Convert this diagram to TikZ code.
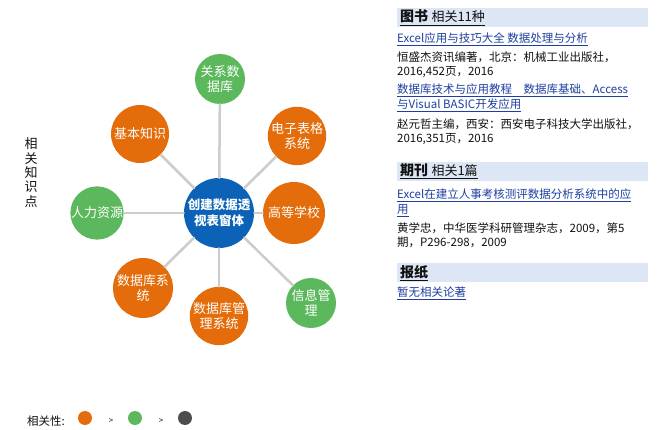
\documentclass[tikz,border=0pt]{standalone}
\usepackage{fontspec}
\setmainfont{Noto Sans CJK SC}
\usetikzlibrary{positioning}
\definecolor{hubblue}{HTML}{0B62B6}
\definecolor{hotorange}{HTML}{E46C0A}
\definecolor{warmgreen}{HTML}{5CB85C}
\definecolor{coldgray}{HTML}{4D4D4D}
\definecolor{spokegray}{HTML}{CCCCCC}
\definecolor{bandblue}{HTML}{DDE6F5}
\definecolor{linkblue}{HTML}{1E3FA0}
\definecolor{ink}{HTML}{111111}
\tikzset{
  star diagram/.style={
    x=1pt,
    y=-1pt,
    line cap=round,
    line join=round
  },
  topicnode/.style={
    circle,
    inner sep=0pt,
    text=white,
    align=center,
    font=\fontsize{13}{15}\selectfont
  },
  hotnode/.style={
    topicnode,
    fill=hotorange
  },
  warmnode/.style={
    topicnode,
    fill=warmgreen
  },
  hubnode/.style={
    topicnode,
    fill=hubblue,
    minimum size=70pt,
    font=\fontsize{12.5}{16}\selectfont\bfseries
  },
  spoke/.style={
    draw=spokegray,
    line width=2.5pt
  },
  headband/.style={
    anchor=north west,
    fill=bandblue,
    minimum width=251pt,
    minimum height=19pt,
    text width=245pt,
    inner xsep=3pt,
    inner ysep=0pt,
    align=left,
    text=ink
  },
  linktext/.style={
    anchor=west,
    text=linkblue,
    align=left,
    inner sep=0pt,
    font=\fontsize{11.5}{15}\selectfont
  },
  bodytext/.style={
    anchor=west,
    text=ink,
    align=left,
    inner sep=0pt,
    font=\fontsize{11.5}{14}\selectfont
  },
  legenddot/.style={
    circle,
    inner sep=0pt,
    minimum size=14pt
  }
}
\begin{document}
\begin{tikzpicture}[star diagram]
\useasboundingbox[fill=white] (0,0) rectangle (657,430);

% knowledge star
\node[hubnode] (hub) at (219,213) {创建数据透\\视表窗体};
\node[warmnode, minimum size=50pt] (reldb) at (220,79) {关系数\\据库};
\node[hotnode, minimum size=58pt] (sheet) at (297,136) {电子表格\\系统};
\node[hotnode, minimum size=62pt] (college) at (294,213) {高等学校};
\node[warmnode, minimum size=50pt] (infomgmt) at (311,303) {信息管\\理};
\node[hotnode, minimum size=58pt] (dbms) at (219,316) {数据库管\\理系统};
\node[hotnode, minimum size=60pt] (dbsys) at (143,288) {数据库系\\统};
\node[warmnode, minimum size=52pt] (hr) at (97,213) {人力资源};
\node[hotnode, minimum size=58pt] (basics) at (140,134) {基本知识};

\draw[spoke] (hub) -- (reldb);
\draw[spoke] (hub) -- (sheet);
\draw[spoke] (hub) -- (college);
\draw[spoke] (hub) -- (infomgmt);
\draw[spoke] (hub) -- (dbms);
\draw[spoke] (hub) -- (dbsys);
\draw[spoke] (hub) -- (hr);
\draw[spoke] (hub) -- (basics);

\node[align=center, inner sep=0pt, text=ink, font=\fontsize{13}{14.3}\selectfont] (sidelabel) at (31,172.5) {相\\关\\知\\识\\点};

% legend
\node[anchor=west, inner sep=0pt, text=ink, font=\fontsize{11.5}{12}\selectfont] (legendlabel) at (27,421) {相关性:};
\node[legenddot, fill=hotorange] (hotdot) at (85,418) {};
\node[inner sep=0pt, text=ink, font=\fontsize{8}{8}\selectfont] (gtone) at (111,421) {>};
\node[legenddot, fill=warmgreen] (warmdot) at (135,418) {};
\node[inner sep=0pt, text=ink, font=\fontsize{8}{8}\selectfont] (gttwo) at (161,421) {>};
\node[legenddot, fill=coldgray] (colddot) at (185,418) {};

% literature panel
\node[headband] (bookhead) at (397,8) {\underline{{\fontsize{14}{14}\selectfont\textbf{图书}} {\fontsize{13}{13}\selectfont 相关11种}}};
\node[linktext] (bookone) at (397,39) {\underline{Excel应用与技巧大全 数据处理与分析}};
\node[bodytext] (bookoneinfo) at (397,64.5) {恒盛杰资讯编著，北京：机械工业出版社，\\2016,452页，2016};
\node[linktext] (booktwo) at (397,97.5) {\underline{数据库技术与应用教程　数据库基础、Access}\\\underline{与Visual BASIC开发应用}};
\node[bodytext] (booktwoinfo) at (397,131.5) {赵元哲主编，西安：西安电子科技大学出版社，\\2016,351页，2016};

\node[headband] (journalhead) at (397,162) {\underline{{\fontsize{14}{14}\selectfont\textbf{期刊}} {\fontsize{13}{13}\selectfont 相关1篇}}};
\node[linktext] (journalone) at (397,203) {\underline{Excel在建立人事考核测评数据分析系统中的应}\\\underline{用}};
\node[bodytext] (journaloneinfo) at (397,235) {黄学忠，中华医学科研管理杂志，2009，第5\\期，P296-298，2009};

\node[headband] (paperhead) at (397,263) {\underline{\fontsize{14}{14}\selectfont\textbf{报纸}}};
\node[linktext] (paperone) at (397,293) {\underline{暂无相关论著}};
\end{tikzpicture}
\end{document}
